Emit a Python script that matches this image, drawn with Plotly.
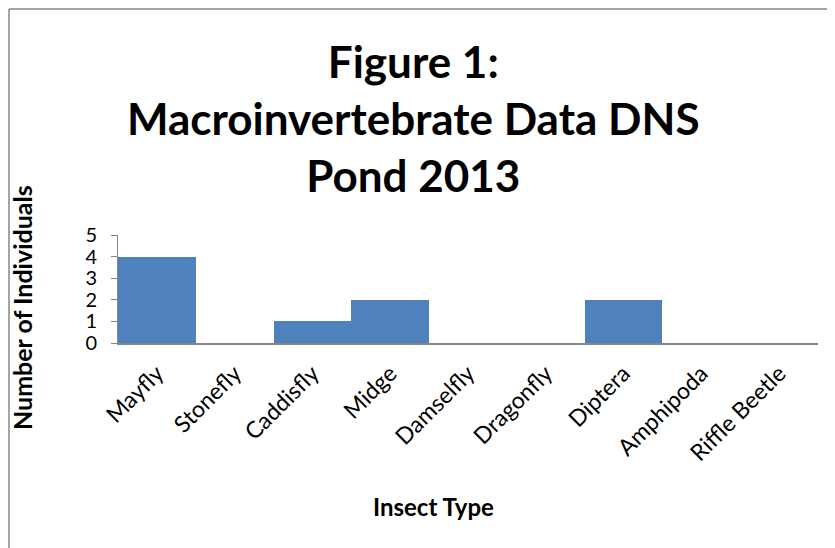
import plotly.graph_objects as go

categories = ["Mayfly", "Stonefly", "Caddisfly", "Midge", "Damselfly",
              "Dragonfly", "Diptera", "Amphipoda", "Riffle Beetle"]
counts = [4, 0, 1, 2, 0, 0, 2, 0, 0]
y_ticks = [0, 1, 2, 3, 4, 5]

# page has an 8px body margin; work in page coordinates and convert
OFF = 8
W, H = 835 - OFF, 548 - OFF
PL, PR, PT, PB = 118, 818, 235, 343  # plot area in page pixels
L, R, T, B = PL - OFF, 835 - PR, PT - OFF, 548 - PB
pw, ph = PR - PL, PB - PT

def px(x):
    return (x - PL) / pw

def py(y):
    return (PB - y) / ph

FONT = "Lato, Carlito, Calibri, sans-serif"

fig = go.Figure(go.Bar(
    x=categories, y=counts,
    marker=dict(color="#4F81BD", line=dict(width=0)),
    width=1.0,
))

fig.update_layout(
    width=W, height=H,
    margin=dict(l=L, r=R, t=T, b=B),
    paper_bgcolor="white", plot_bgcolor="white",
    font=dict(family=FONT, color="black"),
    bargap=0,
    showlegend=False,
    xaxis=dict(
        showline=True, linecolor="#868686", linewidth=2,
        ticks="", tickangle=-45, tickfont=dict(size=23, family=FONT),
        ticklabelstandoff=6,
        showgrid=False, zeroline=False,
    ),
    yaxis=dict(
        range=[0, 5], tickvals=y_ticks,
        showline=True, linecolor="#868686", linewidth=1,
        ticks="outside", ticklen=6, tickcolor="#868686",
        tickfont=dict(size=20, family=FONT),
        ticklabelstandoff=10,
        showgrid=False, zeroline=False,
    ),
    annotations=[
        dict(text="<b>Figure 1:<br>Macroinvertebrate Data DNS<br>Pond 2013</b>",
             xref="paper", yref="paper", x=px(413), y=py(118),
             xanchor="center", yanchor="middle", showarrow=False,
             font=dict(size=44, family=FONT), align="center"),
        dict(text="<b>Number of Individuals</b>", textangle=-90,
             xref="paper", yref="paper", x=px(22), y=py(308),
             xanchor="center", yanchor="middle", showarrow=False,
             font=dict(size=25, family=FONT)),
        dict(text="<b>Insect Type</b>",
             xref="paper", yref="paper", x=px(433), y=py(506),
             xanchor="center", yanchor="middle", showarrow=False,
             font=dict(size=24, family=FONT)),
    ],
    shapes=[
        dict(type="line", xref="paper", yref="paper",
             x0=px(9), x1=px(860), y0=py(9), y1=py(9),
             line=dict(color="#868686", width=1.5)),
        dict(type="line", xref="paper", yref="paper",
             x0=px(9), x1=px(9), y0=py(9), y1=py(580),
             line=dict(color="#868686", width=1.5)),
    ],
)

fig.write_html("out.html")
